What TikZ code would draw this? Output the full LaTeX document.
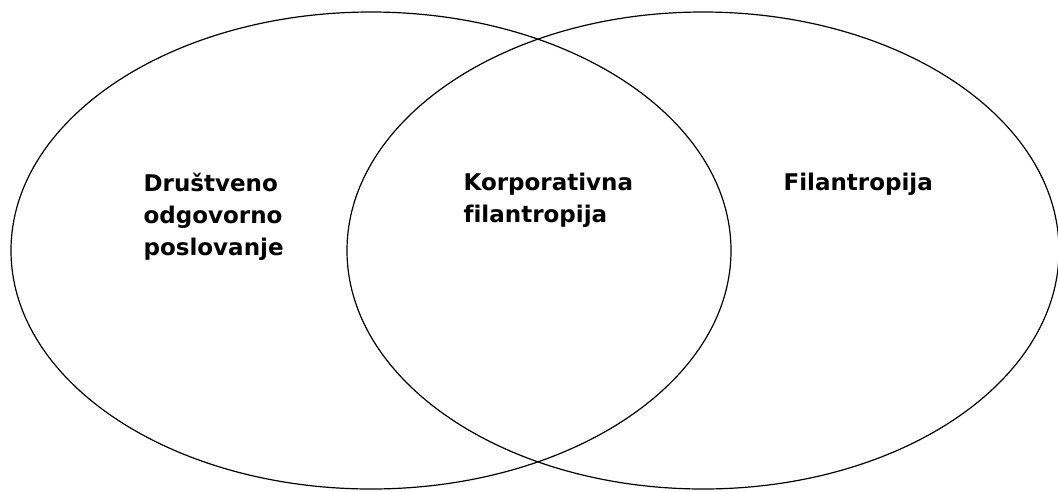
\documentclass[tikz,border=0pt]{standalone}
\usepackage{fontspec}
\setmainfont[Ligatures=NoCommon]{DejaVu Sans}
\usetikzlibrary{positioning}
\tikzset{
	every path/.style={line width=1.2pt},
	label/.style={anchor=north west,align=left,inner sep=0pt,font=\fontsize{23}{32}\selectfont\bfseries},
}

\begin{document}
\begin{tikzpicture}[x=1pt,y=-1pt]
	\useasboundingbox (0,0) rectangle (1058,491);
	
	% left ellipse.....................
	\draw (371,250.5) ellipse [x radius=360, y radius=238.5];
	
	% right ellipse....................
	\draw (703,250.5) ellipse [x radius=356, y radius=238.5];
	
	% labels..............................
	\node [label] (dop) at (143,172) {Društveno\\odgovorno\\poslovanje};
	\node [label] (kf) at (463,172) {Korporativna\\filantropija};
	\node [label] (fil) at (783,172) {Filantropija};
\end{tikzpicture}
\end{document}
